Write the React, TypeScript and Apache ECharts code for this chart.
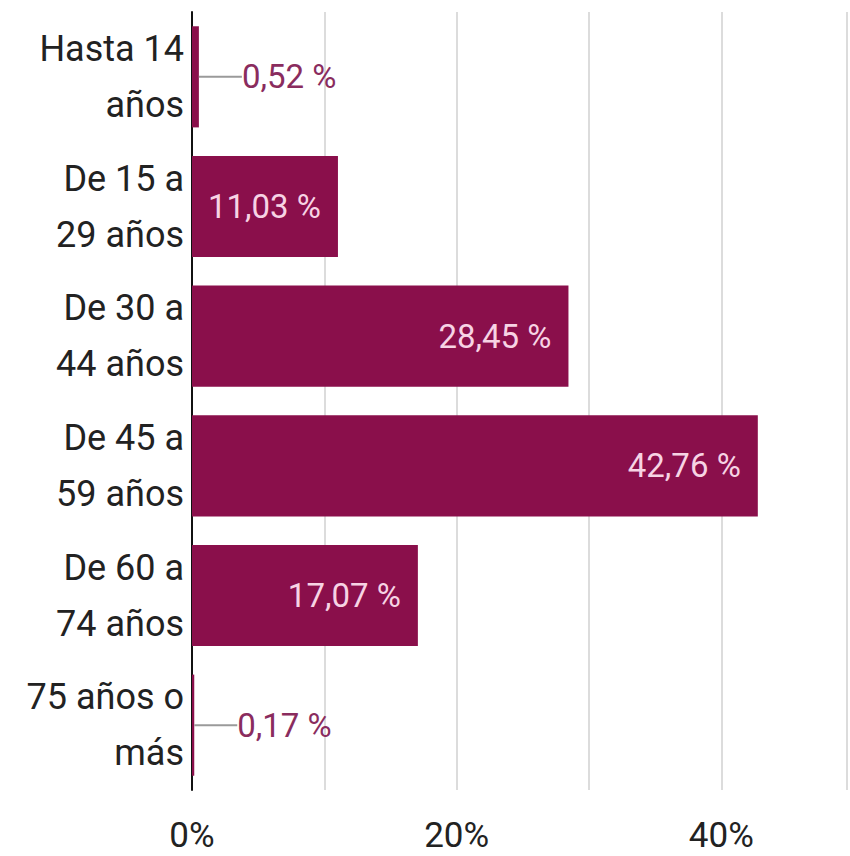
import React, { useEffect, useRef } from "react";
import * as echarts from "echarts";

const categories = [
  "Hasta 14\naños",
  "De 15 a\n29 años",
  "De 30 a\n44 años",
  "De 45 a\n59 años",
  "De 60 a\n74 años",
  "75 años o\nmás",
];
const values = [0.52, 11.03, 28.45, 42.76, 17.07, 0.17];
const xMin = 0;
const xMax = 49.5;
const xInterval = 10;
const shownTickLabels = [0, 20, 40];

const BAR = "#8a0f4b";
const fmt = (v: number) => v.toFixed(2).replace(".", ",") + " %";

export default function App() {
  const ref = useRef<HTMLDivElement>(null);
  useEffect(() => {
    if (!ref.current) return;
    const chart = echarts.init(ref.current, undefined, { renderer: "svg" });
    const data = values.map((v) => {
      if (v < 5) {
        return {
          value: v,
          label: {
            show: true,
            position: "right",
            distance: 0,
            formatter: () => "{l|}{v|" + fmt(v) + "}",
            rich: {
              l: { width: 43, height: 2, backgroundColor: "#9a9a9a" },
              v: { fontSize: 33, color: "#8a2c5e", fontFamily: "Roboto" },
            },
          },
        };
      }
      return {
        value: v,
        label: {
          show: true,
          position: "insideRight",
          distance: 17,
          formatter: () => fmt(v),
          fontSize: 33,
          color: "#f7d3e4",
          fontFamily: "Roboto",
        },
      };
    });
    chart.setOption({
      animation: false,
      backgroundColor: "#ffffff",
      grid: { left: 192, top: 12, right: 0, height: 778, containLabel: false },
      xAxis: {
        type: "value",
        min: xMin,
        max: xMax,
        interval: xInterval,
        axisLine: { show: false },
        axisTick: { show: false },
        splitLine: { show: true, lineStyle: { color: "#dcdcdc", width: 2 } },
        axisLabel: {
          margin: 28,
          fontSize: 35,
          color: "#222",
          fontFamily: "Roboto",
          formatter: (v: number) => (shownTickLabels.includes(v) ? v + "%" : ""),
        },
      },
      yAxis: {
        type: "category",
        inverse: true,
        data: categories,
        axisLine: { show: true, lineStyle: { color: "#111", width: 2 } },
        axisTick: { show: false },
        axisLabel: {
          margin: 8,
          fontSize: 36,
          lineHeight: 56,
          color: "#222",
          fontFamily: "Roboto",
          align: "right",
        },
      },
      series: [
        {
          type: "bar",
          data,
          barCategoryGap: "22%",
          itemStyle: { color: BAR },
          z: 3,
        },
      ],
    });
    return () => chart.dispose();
  }, []);
  return <div ref={ref} style={{ width: 850, height: 856, position: "absolute", left: 0, top: 0 }} />;
}
